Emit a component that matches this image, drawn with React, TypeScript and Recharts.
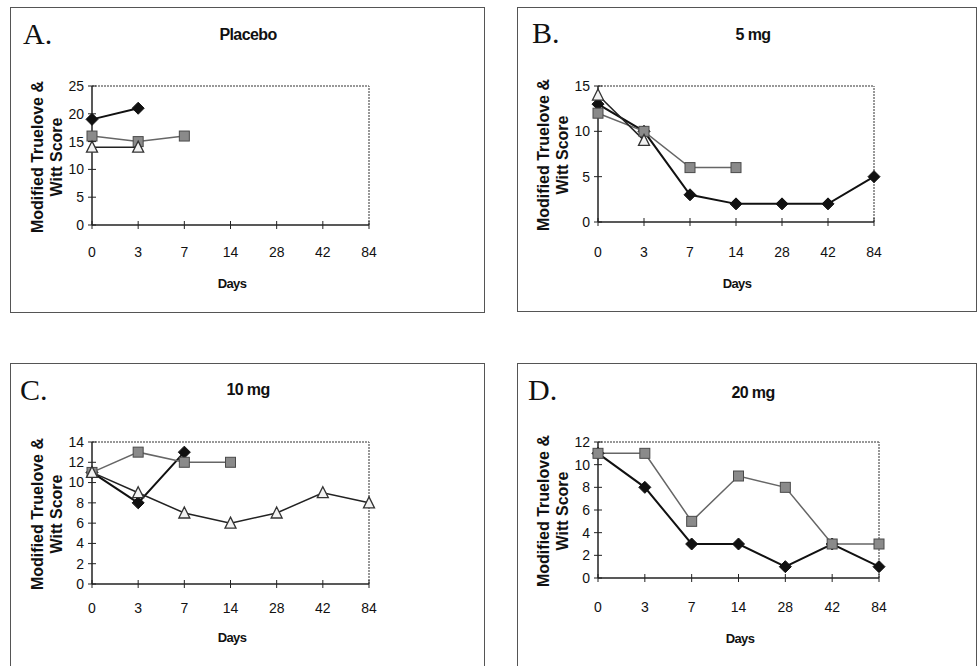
import React from "react";
import { LineChart, Line, XAxis, YAxis, ReferenceLine } from "recharts";

// days on the category axis
const days = ["0", "3", "7", "14", "28", "42", "84"];

// A. placebo
const placeboDiamond = [19, 21, null, null, null, null, null];
const placeboSquare = [16, 15, 16, null, null, null, null];
const placeboTriangle = [14, 14, null, null, null, null, null];
const placeboTicks = [0, 5, 10, 15, 20, 25];

// B. 5 mg
const mg5Diamond = [13, 10, 3, 2, 2, 2, 5];
const mg5Square = [12, 10, 6, 6, null, null, null];
const mg5Triangle = [14, 9, null, null, null, null, null];
const mg5Ticks = [0, 5, 10, 15];

// C. 10 mg
const mg10Diamond = [11, 8, 13, null, null, null, null];
const mg10Square = [11, 13, 12, 12, null, null, null];
const mg10Triangle = [11, 9, 7, 6, 7, 9, 8];
const mg10Ticks = [0, 2, 4, 6, 8, 10, 12, 14];

// D. 20 mg
const mg20Diamond = [11, 8, 3, 3, 1, 3, 1];
const mg20Square = [11, 11, 5, 9, 8, 3, 3];
const mg20Ticks = [0, 2, 4, 6, 8, 10, 12];

type Val = number | null;

const buildRows = (diamond: Val[], square: Val[], triangle: Val[] | null) =>
  days.map((day, i) => ({
    day,
    diamond: diamond[i],
    square: square[i],
    triangle: triangle ? triangle[i] : null,
  }));

const SANS = "'Liberation Sans', Arial, sans-serif";
const SERIF = "'Liberation Serif', 'Times New Roman', serif";

const renderDiamond = (p: any) => {
  const { cx, cy, key } = p;
  if (cx == null || cy == null || p.value == null) return <g key={key} />;
  const r = 6;
  return (
    <polygon
      key={key}
      points={`${cx},${cy - r} ${cx + r},${cy} ${cx},${cy + r} ${cx - r},${cy}`}
      fill="#111"
      stroke="#111"
    />
  );
};

const renderSquare = (p: any) => {
  const { cx, cy, key } = p;
  if (cx == null || cy == null || p.value == null) return <g key={key} />;
  const s = 5;
  return (
    <rect
      key={key}
      x={cx - s}
      y={cy - s}
      width={s * 2}
      height={s * 2}
      fill="#8a8a8a"
      stroke="#4a4a4a"
      strokeWidth={1}
    />
  );
};

const renderTriangle = (p: any) => {
  const { cx, cy, key } = p;
  if (cx == null || cy == null || p.value == null) return <g key={key} />;
  return (
    <polygon
      key={key}
      points={`${cx},${cy - 6} ${cx + 5.5},${cy + 5} ${cx - 5.5},${cy + 5}`}
      fill="#f2f2f2"
      stroke="#333"
      strokeWidth={1.3}
    />
  );
};

type Box = { left: number; top: number; width: number; height: number };
type Plot = { x1: number; x2: number; y1: number; y2: number };

interface PanelProps {
  letter: string;
  letterPos: [number, number];
  title: string;
  titlePos: [number, number];
  daysPos: [number, number];
  box: Box;
  noBottom?: boolean;
  plot: Plot;
  labelGap: number;
  ticks: number[];
  rows: any[];
  hasTriangle: boolean;
}

const AXIS_W = 30;
const AXIS_H = 30;

const Panel = (props: PanelProps) => {
  const { box, plot, ticks, rows, labelGap } = props;
  const yMax = ticks[ticks.length - 1];
  const margin = {
    top: plot.y1 - box.top,
    left: plot.x1 - box.left - AXIS_W,
    right: box.left + box.width - plot.x2,
    bottom: box.top + box.height - plot.y2 - AXIS_H,
  };
  const xMargin = labelGap - 4;

  const YTick = (t: any) => {
    const { x, y, payload } = t;
    return (
      <g>
        <line x1={x + 4} x2={x + 12} y1={y} y2={y} stroke="#222" />
        <text
          x={x}
          y={y}
          dy="0.35em"
          textAnchor="end"
          fontSize={14}
          fontFamily={SANS}
          fill="#111"
        >
          {payload.value}
        </text>
      </g>
    );
  };

  const XTick = (t: any) => {
    const { x, y, payload } = t;
    const axisY = y - 4 - xMargin;
    return (
      <g>
        <line x1={x} x2={x} y1={axisY - 4} y2={axisY + 4} stroke="#222" />
        <text
          x={x}
          y={y}
          dy="0.35em"
          textAnchor="middle"
          fontSize={14}
          fontFamily={SANS}
          fill="#111"
        >
          {payload.value}
        </text>
      </g>
    );
  };

  const yTitleX = plot.x1 - 45;
  const yTitleY = (plot.y1 + plot.y2) / 2 + 1;

  return (
    <>
      <div
        style={{
          position: "absolute",
          left: box.left,
          top: box.top,
          width: box.width,
          height: box.height,
          boxSizing: "border-box",
          border: "1px solid #555",
          borderBottom: props.noBottom ? "none" : "1px solid #555",
        }}
      />
      <div
        style={{
          position: "absolute",
          left: props.letterPos[0],
          top: props.letterPos[1] - 25,
          fontFamily: SERIF,
          fontSize: 30,
          lineHeight: "30px",
          color: "#111",
        }}
      >
        {props.letter}
      </div>
      <div
        style={{
          position: "absolute",
          left: props.titlePos[0],
          top: props.titlePos[1],
          transform: "translate(-50%, -50%)",
          fontFamily: SANS,
          fontWeight: "bold",
          fontSize: 16,
          letterSpacing: -0.6,
          lineHeight: 1,
          whiteSpace: "nowrap",
          color: "#111",
        }}
      >
        {props.title}
      </div>
      <div
        style={{
          position: "absolute",
          left: yTitleX - 90,
          top: yTitleY - 19,
          width: 180,
          height: 38,
          transform: "rotate(-90deg)",
          textAlign: "center",
          fontFamily: SANS,
          fontWeight: "bold",
          fontSize: 16,
          lineHeight: "19px",
          color: "#111",
          whiteSpace: "nowrap",
        }}
      >
        Modified Truelove &amp;
        <br />
        Witt Score
      </div>
      <div
        style={{
          position: "absolute",
          left: props.daysPos[0],
          top: props.daysPos[1],
          transform: "translate(-50%, -50%)",
          fontFamily: SANS,
          fontWeight: "bold",
          fontSize: 13,
          letterSpacing: -0.6,
          lineHeight: 1,
          color: "#111",
        }}
      >
        Days
      </div>
      <div style={{ position: "absolute", left: box.left, top: box.top }}>
        <LineChart
          width={box.width}
          height={box.height}
          data={rows}
          margin={margin}
        >
          <XAxis
            dataKey="day"
            interval={0}
            height={AXIS_H}
            tickSize={4}
            tickMargin={xMargin}
            tickLine={false}
            tick={XTick}
            axisLine={{ stroke: "#222", strokeWidth: 1.5 }}
          />
          <YAxis
            type="number"
            domain={[0, yMax]}
            ticks={ticks}
            interval={0}
            width={AXIS_W}
            tickSize={4}
            tickMargin={4}
            tickLine={false}
            tick={YTick}
            axisLine={{ stroke: "#222", strokeWidth: 1.5 }}
          />
          <ReferenceLine
            y={yMax}
            stroke="#777"
            strokeWidth={1.5}
            strokeDasharray="2 1"
          />
          <ReferenceLine
            x="84"
            stroke="#777"
            strokeWidth={1.5}
            strokeDasharray="2 1"
          />
          <Line
            dataKey="diamond"
            stroke="#111"
            strokeWidth={2}
            dot={renderDiamond}
            activeDot={false}
            isAnimationActive={false}
          />
          <Line
            dataKey="square"
            stroke="#666"
            strokeWidth={1.5}
            dot={renderSquare}
            activeDot={false}
            isAnimationActive={false}
          />
          {props.hasTriangle && (
            <Line
              dataKey="triangle"
              stroke="#222"
              strokeWidth={1.5}
              dot={renderTriangle}
              activeDot={false}
              isAnimationActive={false}
            />
          )}
        </LineChart>
      </div>
    </>
  );
};

export default function App() {
  return (
    <div
      style={{
        position: "absolute",
        left: 0,
        top: 0,
        width: 977,
        height: 666,
        overflow: "hidden",
        background: "#fff",
      }}
    >
      <Panel
        letter="A."
        letterPos={[23, 44]}
        title="Placebo"
        titlePos={[248, 35]}
        daysPos={[232, 283]}
        box={{ left: 10, top: 7, width: 475, height: 306 }}
        plot={{ x1: 92, x2: 369, y1: 86, y2: 225 }}
        labelGap={27}
        ticks={placeboTicks}
        rows={buildRows(placeboDiamond, placeboSquare, placeboTriangle)}
        hasTriangle
      />
      <Panel
        letter="B."
        letterPos={[532, 43]}
        title="5 mg"
        titlePos={[753, 35]}
        daysPos={[737, 283]}
        box={{ left: 517, top: 7, width: 460, height: 305 }}
        plot={{ x1: 598, x2: 874, y1: 86, y2: 222 }}
        labelGap={30}
        ticks={mg5Ticks}
        rows={buildRows(mg5Diamond, mg5Square, mg5Triangle)}
        hasTriangle
      />
      <Panel
        letter="C."
        letterPos={[20, 400]}
        title="10 mg"
        titlePos={[248, 390]}
        daysPos={[232, 637]}
        box={{ left: 10, top: 363, width: 475, height: 303 }}
        noBottom
        plot={{ x1: 92, x2: 369, y1: 442, y2: 584 }}
        labelGap={24}
        ticks={mg10Ticks}
        rows={buildRows(mg10Diamond, mg10Square, mg10Triangle)}
        hasTriangle
      />
      <Panel
        letter="D."
        letterPos={[528, 400]}
        title="20 mg"
        titlePos={[753, 393]}
        daysPos={[740, 638]}
        box={{ left: 517, top: 363, width: 460, height: 303 }}
        noBottom
        plot={{ x1: 598, x2: 879, y1: 442, y2: 578 }}
        labelGap={29}
        ticks={mg20Ticks}
        rows={buildRows(mg20Diamond, mg20Square, null)}
        hasTriangle={false}
      />
    </div>
  );
}
